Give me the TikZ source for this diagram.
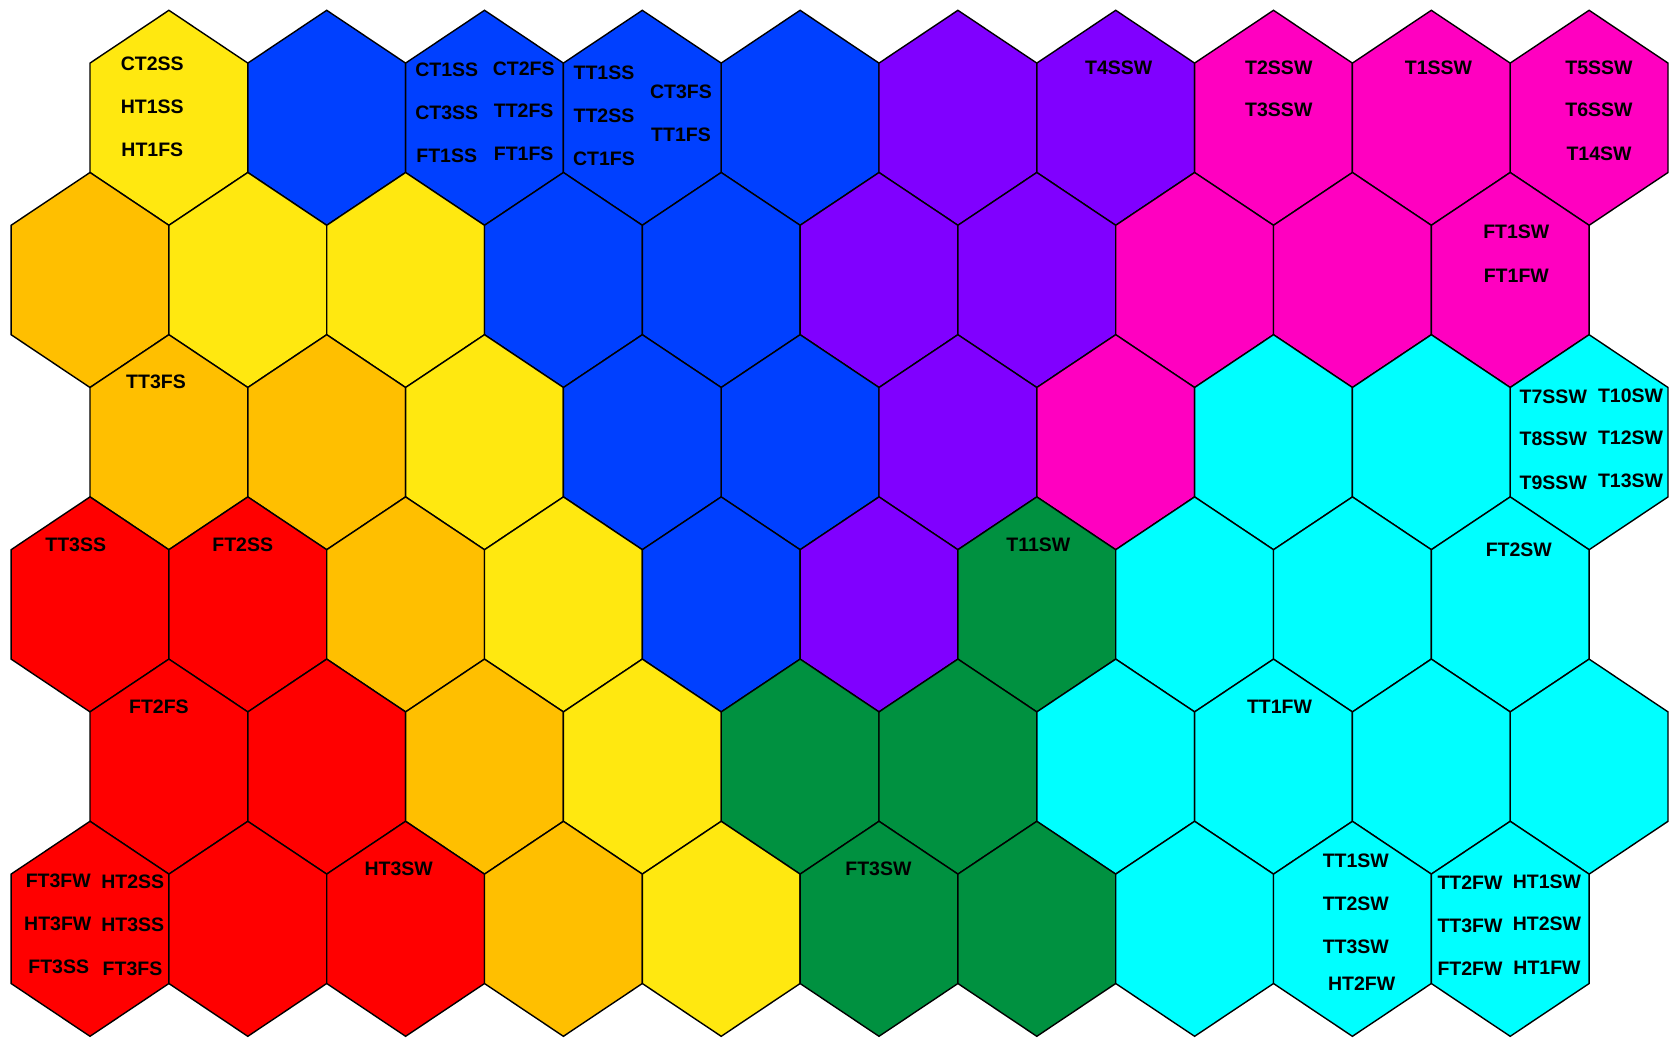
\documentclass[tikz,border=0pt]{standalone}
\usepackage{fontspec}
\setmainfont{Liberation Sans}
\definecolor{hy}{RGB}{255,232,16}
\definecolor{ho}{RGB}{255,191,0}
\definecolor{hb}{RGB}{0,64,255}
\definecolor{hp}{RGB}{128,0,255}
\definecolor{hm}{RGB}{255,0,192}
\definecolor{hc}{RGB}{0,255,255}
\definecolor{hg}{RGB}{0,145,64}
\definecolor{hr}{RGB}{255,0,0}
\tikzset{
  hexline/.style={draw=black, line width=1.4pt, line join=miter},
  lab/.style={inner sep=0pt, font=\fontsize{19.5}{20}\selectfont\bfseries, text=black}
}
\begin{document}
\begin{tikzpicture}[x=1pt,y=-1pt]
\useasboundingbox (0,0) rectangle (1680,1038);
\foreach \r/\row in {0/{hy,hb,hb,hb,hb,hp,hp,hm,hm,hm},
                     1/{ho,hy,hy,hb,hb,hp,hp,hm,hm,hm},
                     2/{ho,ho,hy,hb,hb,hp,hm,hc,hc,hc},
                     3/{hr,hr,ho,hy,hb,hp,hg,hc,hc,hc},
                     4/{hr,hr,ho,hy,hg,hg,hc,hc,hc,hc},
                     5/{hr,hr,hr,ho,hy,hg,hg,hc,hc,hc}}{
  \foreach \col [count=\c from 0] in \row {
    \pgfmathsetmacro{\cx}{90 + 78.9*(1-mod(\r,2)) + 157.8*\c}
    \pgfmathsetmacro{\cy}{117.8 + 162.2*\r}
    \draw[hexline, fill=\col, shift={(\cx,\cy)}]
      (0,-107.5) -- (78.9,-54.7) -- (78.9,54.7) -- (0,107.5)
      -- (-78.9,54.7) -- (-78.9,-54.7) -- cycle;
  }
}
% row 0
\node[lab] (ct2ss) at (152.3,64) {CT2SS};
\node[lab] (ht1ss) at (152.3,107) {HT1SS};
\node[lab] (ht1fs) at (152.3,150) {HT1FS};
\node[lab] (ct1ss) at (446.7,69.5) {CT1SS};
\node[lab] (ct2fs) at (523.7,68.3) {CT2FS};
\node[lab] (ct3ss) at (446.7,112.5) {CT3SS};
\node[lab] (tt2fs) at (523.7,111) {TT2FS};
\node[lab] (ft1ss) at (446.7,155.8) {FT1SS};
\node[lab] (ft1fs) at (523.7,154) {FT1FS};
\node[lab] (tt1ss) at (604,73) {TT1SS};
\node[lab] (tt2ss) at (604,115.8) {TT2SS};
\node[lab] (ct1fs) at (604,159) {CT1FS};
\node[lab] (ct3fs) at (681,91.5) {CT3FS};
\node[lab] (tt1fs) at (681,135) {TT1FS};
\node[lab] (t4ssw) at (1118.7,67.5) {T4SSW};
\node[lab] (t2ssw) at (1278.8,67.5) {T2SSW};
\node[lab] (t3ssw) at (1278.8,110) {T3SSW};
\node[lab] (t1ssw) at (1438.5,67.5) {T1SSW};
\node[lab] (t5ssw) at (1599,67.5) {T5SSW};
\node[lab] (t6ssw) at (1599,110) {T6SSW};
\node[lab] (t14sw) at (1599,153.3) {T14SW};
% row 1
\node[lab] (ft1sw) at (1516.3,232.2) {FT1SW};
\node[lab] (ft1fw) at (1516.3,275.5) {FT1FW};
% row 2
\node[lab] (tt3fs) at (156,382.2) {TT3FS};
\node[lab] (t7ssw) at (1553.3,396.7) {T7SSW};
\node[lab] (t10sw) at (1630.5,395.5) {T10SW};
\node[lab] (t8ssw) at (1553.3,438.3) {T8SSW};
\node[lab] (t12sw) at (1630.5,437.5) {T12SW};
\node[lab] (t9ssw) at (1553.3,482.8) {T9SSW};
\node[lab] (t13sw) at (1630.5,480.8) {T13SW};
% row 3
\node[lab] (tt3ss) at (75.7,544.8) {TT3SS};
\node[lab] (ft2ss) at (242.7,544.8) {FT2SS};
\node[lab] (t11sw) at (1038.4,544.8) {T11SW};
\node[lab] (ft2sw) at (1518.8,550) {FT2SW};
% row 4
\node[lab] (ft2fs) at (158.9,706.7) {FT2FS};
\node[lab] (tt1fw) at (1279.5,706.7) {TT1FW};
% row 5
\node[lab] (ht3sw) at (398.7,868.3) {HT3SW};
\node[lab] (ft3sw) at (878.4,868.3) {FT3SW};
\node[lab] (ft3fw) at (58.3,880.5) {FT3FW};
\node[lab] (ht2ss) at (132.8,881.7) {HT2SS};
\node[lab] (ht3fw) at (57.8,923.3) {HT3FW};
\node[lab] (ht3ss) at (132.8,924.7) {HT3SS};
\node[lab] (ft3ss) at (58.7,966.7) {FT3SS};
\node[lab] (ft3fs) at (132.5,968.8) {FT3FS};
\node[lab] (tt1sw) at (1355.8,860.5) {TT1SW};
\node[lab] (tt2sw) at (1355.8,903.3) {TT2SW};
\node[lab] (tt3sw) at (1355.8,946.7) {TT3SW};
\node[lab] (ht2fw) at (1361.7,983.8) {HT2FW};
\node[lab] (tt2fw) at (1470,882.5) {TT2FW};
\node[lab] (ht1sw) at (1547,881.5) {HT1SW};
\node[lab] (tt3fw) at (1470,925.8) {TT3FW};
\node[lab] (ht2sw) at (1547,924) {HT2SW};
\node[lab] (ft2fw) at (1470,969) {FT2FW};
\node[lab] (ht1fw) at (1547,968) {HT1FW};
\end{tikzpicture}
\end{document}
